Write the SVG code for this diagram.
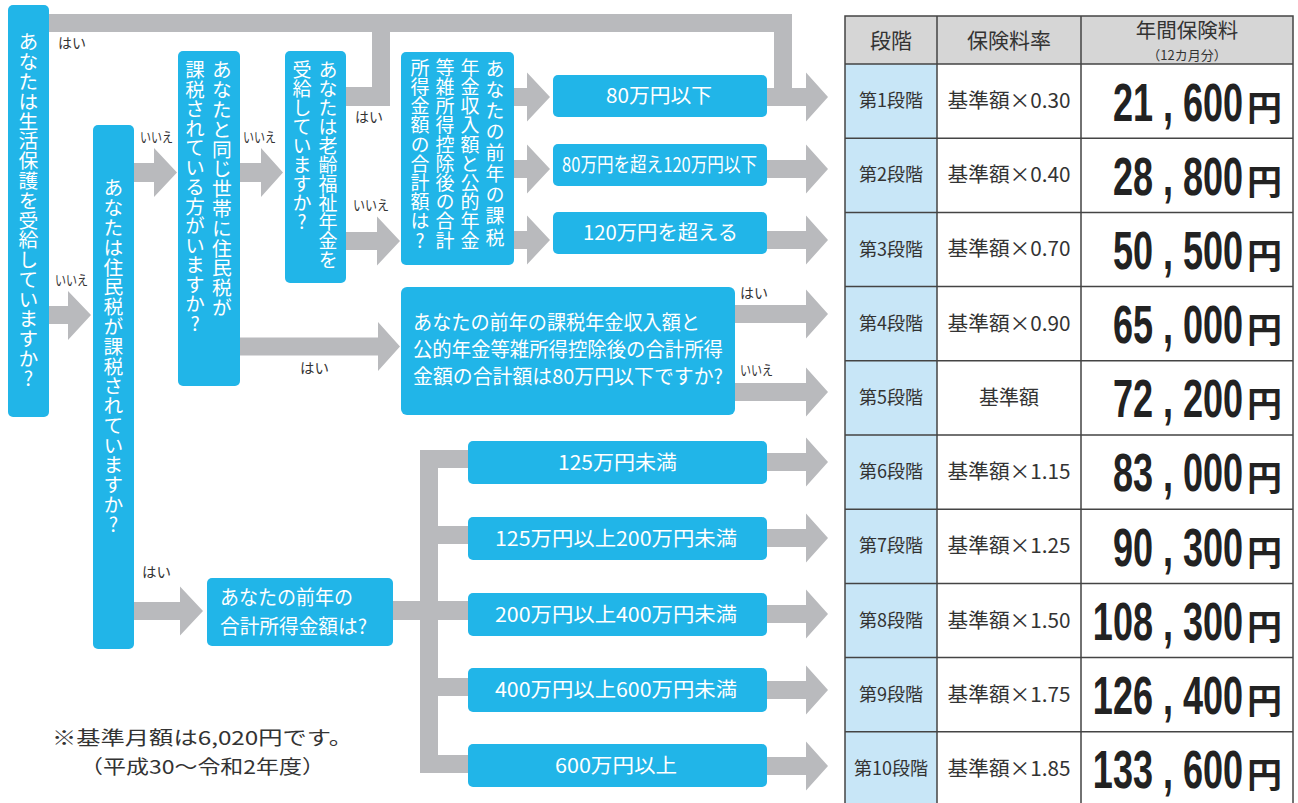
<svg xmlns="http://www.w3.org/2000/svg" width="1298" height="803" viewBox="0 0 1298 803">
<style>
.box{fill:#21b5e8}
.arr{fill:#b9babd}
.v{writing-mode:vertical-rl;text-orientation:upright;font-family:"Noto Sans CJK JP","Noto Sans",sans-serif;fill:#fff}
.w{font-family:"Noto Sans CJK JP","Noto Sans",sans-serif;fill:#fff;font-size:20px}
.lbl{font-family:"Noto Sans CJK JP","Noto Sans",sans-serif;fill:#333;font-size:14px}
.t{font-family:"Noto Sans CJK JP","Noto Sans",sans-serif;fill:#333;text-anchor:middle}
.num{font-family:"Liberation Sans",Arial,sans-serif;font-weight:bold;font-size:54px;fill:#222;text-anchor:end}
.yen{font-family:"Noto Sans CJK JP",sans-serif;font-weight:bold;font-size:35px;fill:#222}
.grid{stroke:#444;stroke-width:1.5;fill:none}
.note{font-family:"Noto Sans CJK JP","Noto Sans",sans-serif;fill:#333;font-size:19px}
</style>
<rect width="1298" height="803" fill="#fff"/>

<g id="connectors">
  <rect class="arr" x="49" y="14" width="743" height="18"/>
  <rect class="arr" x="774" y="14" width="18" height="84"/>
  <rect class="arr" x="346" y="87" width="44" height="19"/>
  <rect class="arr" x="372" y="14" width="18" height="92"/>
  <polygon class="arr" points="49,306 68,306 68,291 91,315 68,340 68,324 49,324"/>
  <polygon class="arr" points="134,163 154,163 154,148 177,172.5 154,197 154,182 134,182"/>
  <polygon class="arr" points="240,163 261,163 261,148 283,172.5 261,197 261,182 240,182"/>
  <polygon class="arr" points="346,232 377,232 377,216.5 400,241 377,265.5 377,250 346,250"/>
  <polygon class="arr" points="514,88 527,88 527,72.5 550,97 527,121.5 527,106 514,106"/>
  <polygon class="arr" points="514,160 527,160 527,144.5 550,169 527,193.5 527,178 514,178"/>
  <polygon class="arr" points="514,231 527,231 527,215.5 550,240 527,264.5 527,249 514,249"/>
  <polygon class="arr" points="767,88 806,88 806,72.5 828,97 806,121.5 806,106 767,106"/>
  <polygon class="arr" points="767,160 806,160 806,144.5 828,169 806,193.5 806,178 767,178"/>
  <polygon class="arr" points="767,231 806,231 806,215.5 828,240 806,264.5 806,249 767,249"/>
  <polygon class="arr" points="240,337.5 378,337.5 378,322 400,346.5 378,371 378,355.5 240,355.5"/>
  <polygon class="arr" points="735,305 806,305 806,289.5 828,314 806,338.5 806,323 735,323"/>
  <polygon class="arr" points="735,383 806,383 806,367.5 828,392 806,416.5 806,401 735,401"/>
  <polygon class="arr" points="134,602 180,602 180,586.5 203,611 180,635.5 180,620 134,620"/>
  <rect class="arr" x="393" y="601" width="75" height="19"/>
  <rect class="arr" x="420" y="450" width="18" height="323"/>
  <rect class="arr" x="420" y="450" width="48" height="18"/>
  <rect class="arr" x="438" y="526" width="30" height="18"/>
  <rect class="arr" x="438" y="678" width="30" height="18"/>
  <rect class="arr" x="420" y="755" width="48" height="18"/>
  <polygon class="arr" points="767,453 806,453 806,437.5 828,462 806,486.5 806,471 767,471"/>
  <polygon class="arr" points="767,529 806,529 806,513.5 828,538 806,562.5 806,547 767,547"/>
  <polygon class="arr" points="767,605 806,605 806,589.5 828,614 806,638.5 806,623 767,623"/>
  <polygon class="arr" points="767,681 806,681 806,665.5 828,690 806,714.5 806,699 767,699"/>
  <polygon class="arr" points="767,757 806,757 806,741.5 828,766 806,790.5 806,775 767,775"/>
  <text class="lbl" x="58" y="48" textLength="28" lengthAdjust="spacingAndGlyphs">はい</text>
  <text class="lbl" x="55" y="285" textLength="33" lengthAdjust="spacingAndGlyphs">いいえ</text>
  <text class="lbl" x="140" y="142" textLength="33" lengthAdjust="spacingAndGlyphs">いいえ</text>
  <text class="lbl" x="243" y="142" textLength="33" lengthAdjust="spacingAndGlyphs">いいえ</text>
  <text class="lbl" x="355" y="122" textLength="28" lengthAdjust="spacingAndGlyphs">はい</text>
  <text class="lbl" x="353" y="210" textLength="36" lengthAdjust="spacingAndGlyphs">いいえ</text>
  <text class="lbl" x="300" y="373" textLength="29" lengthAdjust="spacingAndGlyphs">はい</text>
  <text class="lbl" x="740" y="298" textLength="28" lengthAdjust="spacingAndGlyphs">はい</text>
  <text class="lbl" x="740" y="375" textLength="33" lengthAdjust="spacingAndGlyphs">いいえ</text>
  <text class="lbl" x="142" y="577" textLength="29" lengthAdjust="spacingAndGlyphs">はい</text>
</g>

<g id="q-seikatsu">
  <rect class="box" x="8" y="5" width="41" height="412" rx="5"/>
  <text class="v" x="28.5" y="32" font-size="19.8">あなたは生活保護を受給していますか?</text>
</g>
<g id="q-juminzei">
  <rect class="box" x="93" y="125" width="41" height="524" rx="5"/>
  <text class="v" x="113.5" y="178" font-size="19.8">あなたは住民税が課税されていますか?</text>
</g>
<g id="q-setai">
  <rect class="box" x="178" y="51" width="62" height="335" rx="5"/>
  <text class="v" x="222" y="60" font-size="19.8">あなたと同じ世帯に住民税が</text>
  <text class="v" x="195" y="60" font-size="19.5">課税されている方がいますか?</text>
</g>
<g id="q-rorei">
  <rect class="box" x="285" y="51" width="61" height="232" rx="5"/>
  <text class="v" x="328" y="60" font-size="19">あなたは老齢福祉年金を</text>
  <text class="v" x="302" y="60" font-size="19">受給していますか?</text>
</g>
<g id="q-nenkin-v">
  <rect class="box" x="401" y="52" width="113" height="213" rx="5"/>
  <text class="v" x="495" y="59" font-size="19" letter-spacing="2.1">あなたの前年の課税</text>
  <text class="v" x="470" y="58" font-size="19" letter-spacing="0.2">年金収入額と公的年金</text>
  <text class="v" x="445" y="58" font-size="19" letter-spacing="0.2">等雑所得控除後の合計</text>
  <text class="v" x="420" y="58" font-size="19" letter-spacing="0.2">所得金額の合計額は?</text>
</g>
<g id="r-80">
  <rect class="box" x="553" y="75" width="214" height="42" rx="5"/>
  <text class="w" x="606" y="103" textLength="106" lengthAdjust="spacingAndGlyphs">80万円以下</text>
</g>
<g id="r-80-120">
  <rect class="box" x="553" y="144" width="214" height="42" rx="5"/>
  <text class="w" x="562" y="172" textLength="195" lengthAdjust="spacingAndGlyphs">80万円を超え120万円以下</text>
</g>
<g id="r-120">
  <rect class="box" x="553" y="212" width="214" height="42" rx="5"/>
  <text class="w" x="583" y="240" textLength="155" lengthAdjust="spacingAndGlyphs">120万円を超える</text>
</g>
<g id="q-nenkin-h">
  <rect class="box" x="401" y="287" width="334" height="128" rx="6"/>
  <text class="w" x="413" y="330" font-size="19.5" textLength="287" lengthAdjust="spacingAndGlyphs">あなたの前年の課税年金収入額と</text>
  <text class="w" x="413" y="357" font-size="19.5" textLength="310" lengthAdjust="spacingAndGlyphs">公的年金等雑所得控除後の合計所得</text>
  <text class="w" x="413" y="384" font-size="19.5" textLength="310" lengthAdjust="spacingAndGlyphs">金額の合計額は80万円以下ですか?</text>
</g>
<g id="q-shotoku">
  <rect class="box" x="207" y="578" width="186" height="68" rx="5"/>
  <text class="w" x="220" y="605" font-size="19" textLength="133" lengthAdjust="spacingAndGlyphs">あなたの前年の</text>
  <text class="w" x="220" y="634" font-size="19" textLength="147" lengthAdjust="spacingAndGlyphs">合計所得金額は?</text>
</g>
<g id="s-125">
  <rect class="box" x="468" y="441" width="299" height="43" rx="5"/>
  <text class="w" x="558" y="470" font-size="21" textLength="119" lengthAdjust="spacingAndGlyphs">125万円未満</text>
</g>
<g id="s-125-200">
  <rect class="box" x="468" y="517" width="299" height="43" rx="5"/>
  <text class="w" x="495" y="546" font-size="21" textLength="242" lengthAdjust="spacingAndGlyphs">125万円以上200万円未満</text>
</g>
<g id="s-200-400">
  <rect class="box" x="468" y="593" width="299" height="43" rx="5"/>
  <text class="w" x="495" y="622" font-size="21" textLength="242" lengthAdjust="spacingAndGlyphs">200万円以上400万円未満</text>
</g>
<g id="s-400-600">
  <rect class="box" x="468" y="668" width="299" height="44" rx="5"/>
  <text class="w" x="495" y="697" font-size="21" textLength="242" lengthAdjust="spacingAndGlyphs">400万円以上600万円未満</text>
</g>
<g id="s-600">
  <rect class="box" x="468" y="744" width="299" height="43" rx="5"/>
  <text class="w" x="555" y="773" font-size="21" textLength="122" lengthAdjust="spacingAndGlyphs">600万円以上</text>
</g>

<g id="footnote">
  <text class="note" x="52" y="745" textLength="301" lengthAdjust="spacingAndGlyphs">※基準月額は6,020円です。</text>
  <text class="note" x="80" y="773.5" textLength="245" lengthAdjust="spacingAndGlyphs">（平成30～令和2年度）</text>
</g>

<g id="table">
  <rect x="845" y="16" width="448" height="48" fill="#d6d6d6"/>
  <rect x="845" y="64" width="92" height="742" fill="#c8e6f7"/>
  <rect class="grid" x="845" y="16" width="448" height="790"/>
  <path class="grid" d="M937 16V806M1081 16V806M845 64H1293M845 138.2H1293M845 212.4H1293M845 286.6H1293M845 360.8H1293M845 435H1293M845 509.2H1293M845 583.4H1293M845 657.6H1293M845 731.8H1293"/>
  <text class="t" x="891" y="48" font-size="21">段階</text>
  <text class="t" x="1009" y="48" font-size="21">保険料率</text>
  <text class="t" x="1187" y="38" font-size="20.5">年間保険料</text>
  <text class="t" x="1187" y="60" font-size="13">（12カ月分）</text>

  <g font-size="18">
    <text class="t" x="891" y="107">第1段階</text>
    <text class="t" x="891" y="181">第2段階</text>
    <text class="t" x="891" y="256">第3段階</text>
    <text class="t" x="891" y="330">第4段階</text>
    <text class="t" x="891" y="404">第5段階</text>
    <text class="t" x="891" y="478">第6段階</text>
    <text class="t" x="891" y="552">第7段階</text>
    <text class="t" x="891" y="627">第8段階</text>
    <text class="t" x="891" y="701">第9段階</text>
    <text class="t" x="891" y="775">第10段階</text>
  </g>
  <g font-size="20">
    <text class="t" x="1009" y="108" textLength="123" lengthAdjust="spacingAndGlyphs">基準額×0.30</text>
    <text class="t" x="1009" y="182" textLength="123" lengthAdjust="spacingAndGlyphs">基準額×0.40</text>
    <text class="t" x="1009" y="256" textLength="123" lengthAdjust="spacingAndGlyphs">基準額×0.70</text>
    <text class="t" x="1009" y="331" textLength="123" lengthAdjust="spacingAndGlyphs">基準額×0.90</text>
    <text class="t" x="1009" y="405">基準額</text>
    <text class="t" x="1009" y="479" textLength="123" lengthAdjust="spacingAndGlyphs">基準額×1.15</text>
    <text class="t" x="1009" y="553" textLength="123" lengthAdjust="spacingAndGlyphs">基準額×1.25</text>
    <text class="t" x="1009" y="628" textLength="123" lengthAdjust="spacingAndGlyphs">基準額×1.50</text>
    <text class="t" x="1009" y="702" textLength="123" lengthAdjust="spacingAndGlyphs">基準額×1.75</text>
    <text class="t" x="1009" y="776" textLength="123" lengthAdjust="spacingAndGlyphs">基準額×1.85</text>
  </g>
  <text class="num" transform="translate(1243,121) scale(0.667,1)">21<tspan dx="15">,</tspan><tspan dx="15">600</tspan></text>
  <text class="num" transform="translate(1243,195) scale(0.667,1)">28<tspan dx="15">,</tspan><tspan dx="15">800</tspan></text>
  <text class="num" transform="translate(1243,269) scale(0.667,1)">50<tspan dx="15">,</tspan><tspan dx="15">500</tspan></text>
  <text class="num" transform="translate(1243,343) scale(0.667,1)">65<tspan dx="15">,</tspan><tspan dx="15">000</tspan></text>
  <text class="num" transform="translate(1243,417) scale(0.667,1)">72<tspan dx="15">,</tspan><tspan dx="15">200</tspan></text>
  <text class="num" transform="translate(1243,491) scale(0.667,1)">83<tspan dx="15">,</tspan><tspan dx="15">000</tspan></text>
  <text class="num" transform="translate(1243,566) scale(0.667,1)">90<tspan dx="15">,</tspan><tspan dx="15">300</tspan></text>
  <text class="num" transform="translate(1243,640) scale(0.667,1)">108<tspan dx="15">,</tspan><tspan dx="15">300</tspan></text>
  <text class="num" transform="translate(1243,714) scale(0.667,1)">126<tspan dx="15">,</tspan><tspan dx="15">400</tspan></text>
  <text class="num" transform="translate(1243,788) scale(0.667,1)">133<tspan dx="15">,</tspan><tspan dx="15">600</tspan></text>
  <g class="yen">
    <text x="1247" y="121">円</text>
    <text x="1247" y="195">円</text>
    <text x="1247" y="269">円</text>
    <text x="1247" y="343">円</text>
    <text x="1247" y="417">円</text>
    <text x="1247" y="491">円</text>
    <text x="1247" y="566">円</text>
    <text x="1247" y="640">円</text>
    <text x="1247" y="714">円</text>
    <text x="1247" y="788">円</text>
  </g>
</g>
</svg>
